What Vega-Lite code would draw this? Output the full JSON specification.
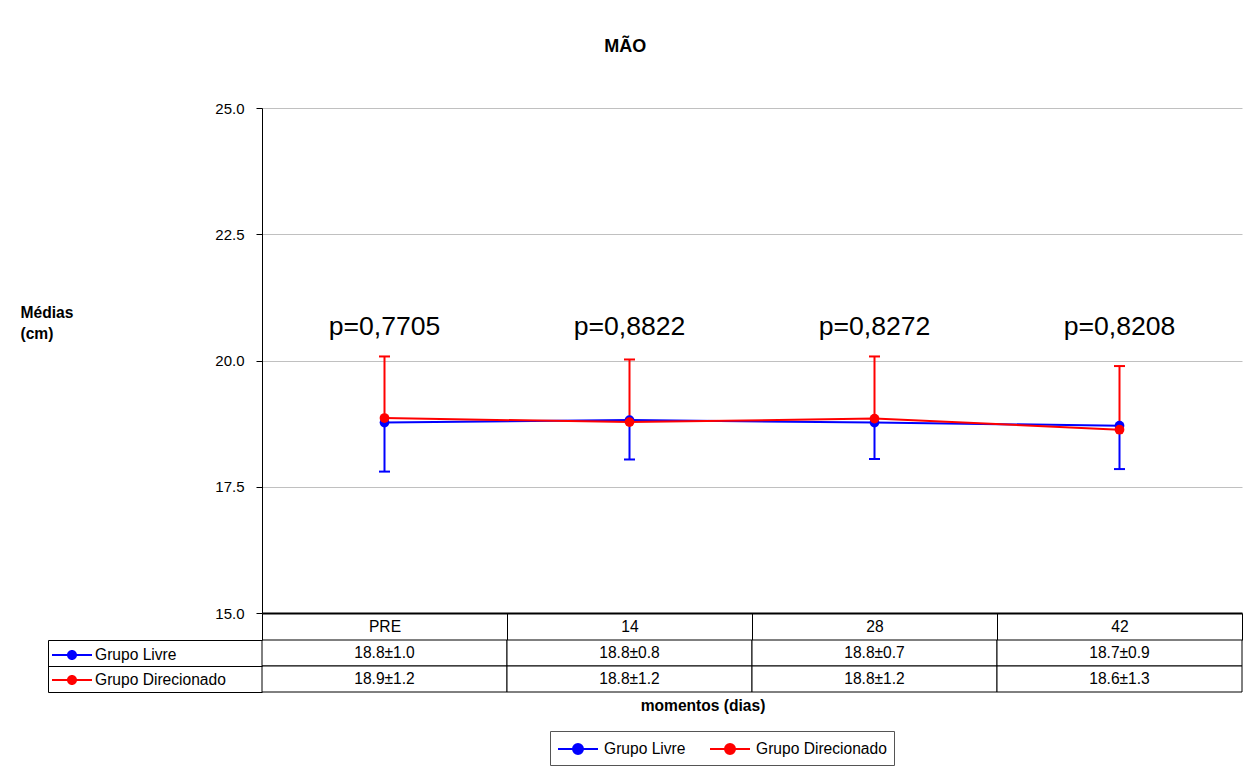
{
  "$schema": "https://vega.github.io/schema/vega-lite/v6.json",
  "background": "white",
  "padding": {"left": 20, "top": 38, "right": 0, "bottom": 0},
  "config": {
    "font": "Liberation Sans",
    "view": {"stroke": null},
    "axis": {"labelColor": "black", "titleColor": "black"}
  },
  "title": {"text": "MÃO", "fontSize": 18, "fontWeight": "bold", "anchor": "middle", "offset": 45, "dx": -6, "color": "black"},
  "datasets": {
    "medias": [
      {"momento": "PRE", "grupo": "Grupo Livre", "media": 18.77, "extremo": 17.80, "texto": "18.8±1.0"},
      {"momento": "14", "grupo": "Grupo Livre", "media": 18.82, "extremo": 18.04, "texto": "18.8±0.8"},
      {"momento": "28", "grupo": "Grupo Livre", "media": 18.77, "extremo": 18.05, "texto": "18.8±0.7"},
      {"momento": "42", "grupo": "Grupo Livre", "media": 18.71, "extremo": 17.85, "texto": "18.7±0.9"},
      {"momento": "PRE", "grupo": "Grupo Direcionado", "media": 18.86, "extremo": 20.08, "texto": "18.9±1.2"},
      {"momento": "14", "grupo": "Grupo Direcionado", "media": 18.78, "extremo": 20.02, "texto": "18.8±1.2"},
      {"momento": "28", "grupo": "Grupo Direcionado", "media": 18.85, "extremo": 20.08, "texto": "18.8±1.2"},
      {"momento": "42", "grupo": "Grupo Direcionado", "media": 18.63, "extremo": 19.89, "texto": "18.6±1.3"}
    ],
    "pvalores": [
      {"momento": "PRE", "p": "p=0,7705"},
      {"momento": "14", "p": "p=0,8822"},
      {"momento": "28", "p": "p=0,8272"},
      {"momento": "42", "p": "p=0,8208"}
    ]
  },
  "spacing": 27,
  "bounds": "flush",
  "vconcat": [
    {
      "width": 980,
      "height": 505,
      "data": {"name": "medias"},
      "encoding": {
        "x": {
          "field": "momento", "type": "nominal", "sort": ["PRE", "14", "28", "42"],
          "scale": {"paddingInner": 0, "paddingOuter": 0},
          "axis": {
            "orient": "bottom", "title": null, "tickBand": "extent", "tickSize": 27,
            "tickColor": "black", "tickWidth": 1, "domainColor": "black", "domainWidth": 2,
            "labelFontSize": 15.6, "labelBaseline": "middle", "labelPadding": -13.5,
            "labelAngle": 0, "grid": false
          }
        }
      },
      "layer": [
        {
          "mark": {"type": "rule", "strokeWidth": 2},
          "encoding": {
            "y": {
              "field": "media", "type": "quantitative",
              "scale": {"domain": [15, 25], "nice": false, "zero": false},
              "axis": {
                "values": [15, 17.5, 20, 22.5, 25], "format": ".1f",
                "labelFontSize": 15, "labelPadding": 12, "tickSize": 6,
                "tickColor": "black", "domainColor": "black", "domainWidth": 1,
                "grid": true, "gridColor": "#c0c0c0", "gridWidth": 1,
                "title": ["Médias", "(cm)"], "titleAngle": 0, "titleAlign": "left",
                "titleBaseline": "alphabetic", "titleX": -242, "titleY": 209,
                "titleFontSize": 15.6, "titleFontWeight": "bold", "titleLineHeight": 21
              }
            },
            "y2": {"field": "extremo"},
            "stroke": {
              "field": "grupo", "type": "nominal", "sort": ["Grupo Livre", "Grupo Direcionado"],
              "scale": {"range": ["#0000ff", "#ff0000"]}
            }
          }
        },
        {
          "mark": {"type": "tick", "orient": "horizontal", "size": 11, "thickness": 2, "opacity": 1},
          "encoding": {
            "y": {"field": "extremo", "type": "quantitative"},
            "fill": {
              "field": "grupo", "type": "nominal",
              "scale": {"domain": ["Grupo Livre", "Grupo Direcionado"], "range": ["#0000ff", "#ff0000"]}
            }
          }
        },
        {
          "mark": {"type": "line", "strokeWidth": 2},
          "encoding": {
            "y": {"field": "media", "type": "quantitative"},
            "stroke": {
              "field": "grupo", "type": "nominal", "sort": ["Grupo Livre", "Grupo Direcionado"],
              "scale": {"range": ["#0000ff", "#ff0000"]},
              "legend": {
                "orient": "none", "legendX": 288, "legendY": 623, "direction": "horizontal",
                "title": null, "symbolType": "M-2,0H2M0.5,0A0.5,0.5,0,1,1,-0.5,0A0.5,0.5,0,1,1,0.5,0Z",
                "symbolSize": 400, "symbolStrokeWidth": 2, "symbolOffset": 10,
                "labelFontSize": 15.6, "labelOffset": 15,
                "columnPadding": 20, "padding": 7, "strokeColor": "#555555", "labelColor": "black",
                "labelLimit": 300,
                "encode": {"symbols": {"update": {
                  "fill": {"scale": "stroke", "field": "value"},
                  "stroke": {"scale": "stroke", "field": "value"},
                  "opacity": {"value": 1}
                }}}
              }
            }
          }
        },
        {
          "mark": {"type": "point", "filled": true, "size": 95, "opacity": 1},
          "encoding": {
            "y": {"field": "media", "type": "quantitative"},
            "fill": {
              "field": "grupo", "type": "nominal",
              "scale": {"domain": ["Grupo Livre", "Grupo Direcionado"], "range": ["#0000ff", "#ff0000"]},
              "legend": {
                "orient": "none", "legendX": -200, "legendY": 537, "direction": "vertical",
                "title": null,
                "symbolType": "M-2,-0.1H2V0.1H-2Z M0.5,0A0.5,0.5,0,1,1,-0.5,0A0.5,0.5,0,1,1,0.5,0Z",
                "symbolSize": 400, "symbolStrokeWidth": 0, "symbolOpacity": 1,
                "labelFontSize": 15.6, "labelOffset": 13,
                "rowPadding": 6, "padding": 0, "labelColor": "black", "labelLimit": 300
              }
            }
          }
        },
        {
          "data": {"name": "pvalores"},
          "mark": {"type": "text", "fontSize": 26.6, "baseline": "alphabetic", "color": "black"},
          "encoding": {
            "y": {"datum": 20.5, "type": "quantitative"},
            "text": {"field": "p"}
          }
        }
      ]
    },
    {
      "width": 980,
      "height": 52,
      "data": {"name": "medias"},
      "encoding": {
        "x": {
          "field": "momento", "type": "nominal", "sort": ["PRE", "14", "28", "42"],
          "scale": {"paddingInner": 0, "paddingOuter": 0},
          "axis": {
            "labels": false, "ticks": false, "domain": false, "grid": false,
            "title": "momentos (dias)", "titleFontSize": 15.6, "titleFontWeight": "bold",
            "titlePadding": 6, "titleX": 440.5, "titleAlign": "center"
          }
        },
        "y": {
          "field": "grupo", "type": "nominal", "sort": ["Grupo Livre", "Grupo Direcionado"],
          "scale": {"paddingInner": 0, "paddingOuter": 0},
          "axis": {
            "labels": false, "title": null, "offset": 214, "tickSize": -214,
            "tickBand": "extent", "tickColor": "black", "domainColor": "black", "grid": false
          }
        }
      },
      "layer": [
        {"mark": {"type": "rect", "fill": "white", "stroke": "black", "strokeWidth": 1}},
        {
          "mark": {"type": "text", "fontSize": 15.6, "color": "black"},
          "encoding": {"text": {"field": "texto"}}
        }
      ]
    }
  ]
}
